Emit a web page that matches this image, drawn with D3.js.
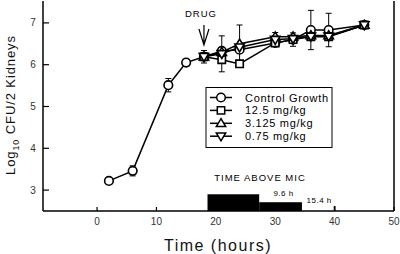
<!DOCTYPE html>
<html>
<head>
<meta charset="utf-8">
<script src="https://cdn.jsdelivr.net/npm/d3@7"></script>
<style>
  body { margin: 0; background: #fff; }
  svg { display: block; font-family: "Liberation Sans", Arial, Helvetica, sans-serif; }
</style>
</head>
<body>
<div id="chart"></div>
<script>
// time points (hours)
const hours = [2, 6, 12, 15, 18, 21, 24, 30, 33, 36, 39, 45];
const drugHours = [18, 21, 24, 30, 33, 36, 39, 45];

// log10 CFU / 2 kidneys
const controlGrowth = [3.22, 3.46, 5.51, 6.05, 6.19, 6.33, 6.36, 6.52, 6.6, 6.83, 6.83, 6.95];
const controlErr = [0, 0.12, 0.16, 0.03, 0.15, 0, 0, 0, 0.16, 0.47, 0.4, 0];
const dose12_5 = [6.19, 6.12, 6.02, 6.52, 6.6, 6.67, 6.67, 6.95];
const err12_5 = [0, 0, 0, 0, 0, 0, 0, 0];
const dose3_125 = [6.19, 6.3, 6.5, 6.67, 6.67, 6.7, 6.7, 6.95];
const err3_125 = [0, 0, 0.45, 0.1, 0, 0, 0, 0];
const dose0_75 = [6.19, 6.26, 6.42, 6.6, 6.62, 6.68, 6.68, 6.95];
const err0_75 = [0, 0.43, 0, 0, 0, 0, 0, 0];

const seriesNames = ['Control Growth', '12.5 mg/kg', '3.125 mg/kg', '0.75 mg/kg'];
const xTicks = [0, 10, 20, 30, 40, 50];
const yTicks = [3, 4, 5, 6, 7];

// time above MIC bars: start, end, top
const micStart = [18.6, 27.3, 39.85];
const micEnd = [27.3, 34.5, 40.15];
const micTop = [2.9, 2.71, 2.62];
const micLabels = ['9.6 h', '15.4 h'];
const micLabelX = [31.4, 37.4];
const micLabelY = [2.94, 2.76];

const width = 400, height = 254;
const svg = d3.select('#chart').append('svg')
    .attr('width', width)
    .attr('height', height);

const x = d3.scaleLinear().domain([-9.1, 50]).range([43, 394]);
const y = d3.scaleLinear().domain([2.5, 7.5]).range([211, 2]);

// frame: left, bottom, right
const frame = svg.append('g').attr('stroke', '#000').attr('stroke-width', 1.5);
frame.append('line').attr('x1', x(-9.1)).attr('x2', x(-9.1)).attr('y1', 1).attr('y2', y(2.5));
frame.append('line').attr('x1', x(-9.1)).attr('x2', x(50)).attr('y1', y(2.5)).attr('y2', y(2.5));
frame.append('line').attr('x1', x(50)).attr('x2', x(50)).attr('y1', 1).attr('y2', y(2.5));

// x ticks (inward)
svg.append('g').selectAll('line').data(xTicks).join('line')
    .attr('x1', d => x(d)).attr('x2', d => x(d))
    .attr('y1', y(2.5)).attr('y2', y(2.5) - 4)
    .attr('stroke', '#000').attr('stroke-width', 1.2);
svg.append('g').selectAll('text').data(xTicks).join('text')
    .attr('x', d => x(d)).attr('y', y(2.5) + 14)
    .attr('text-anchor', 'middle')
    .attr('font-size', 10).attr('fill', '#333')
    .text(d => d);

// y ticks (inward)
svg.append('g').selectAll('line').data(yTicks).join('line')
    .attr('x1', x(-9.1)).attr('x2', x(-9.1) + 6)
    .attr('y1', d => y(d)).attr('y2', d => y(d))
    .attr('stroke', '#000').attr('stroke-width', 1.2);
svg.append('g').selectAll('text').data(yTicks).join('text')
    .attr('x', 33).attr('y', d => y(d) + 3.5)
    .attr('text-anchor', 'middle')
    .attr('font-size', 10).attr('fill', '#333')
    .text(d => d);

// axis titles
svg.append('text')
    .attr('x', 218).attr('y', 251)
    .attr('text-anchor', 'middle')
    .attr('font-size', 16).attr('font-weight', 'normal').attr('letter-spacing', 1.5)
    .attr('fill', '#111')
    .text('Time (hours)');

const yTitle = svg.append('text')
    .attr('transform', 'translate(15,105) rotate(-90)')
    .attr('text-anchor', 'middle')
    .attr('font-size', 13).attr('letter-spacing', 0.9)
    .attr('fill', '#111');
yTitle.append('tspan').text('Log');
yTitle.append('tspan').attr('font-size', 9).attr('dy', 4).text('10');
yTitle.append('tspan').attr('dy', -4).text(' CFU/2 Kidneys');

// time above MIC
svg.append('g').selectAll('rect').data(micStart).join('rect')
    .attr('x', d => x(d))
    .attr('width', (d, i) => x(micEnd[i]) - x(d))
    .attr('y', (d, i) => y(micTop[i]))
    .attr('height', (d, i) => y(2.5) - y(micTop[i]))
    .attr('fill', '#000');
svg.append('text')
    .attr('x', 260).attr('y', 181)
    .attr('text-anchor', 'middle')
    .attr('font-size', 9.5).attr('letter-spacing', 1)
    .text('TIME ABOVE MIC');
svg.append('g').selectAll('text').data(micLabels).join('text')
    .attr('x', (d, i) => x(micLabelX[i]))
    .attr('y', (d, i) => y(micLabelY[i]) + 3)
    .attr('text-anchor', 'middle')
    .attr('font-size', 8).attr('letter-spacing', 0.5)
    .text(d => d);

// drug arrow
svg.append('text')
    .attr('x', 201).attr('y', 17)
    .attr('text-anchor', 'middle')
    .attr('font-size', 9.5).attr('letter-spacing', 1)
    .text('DRUG');
svg.append('path')
    .attr('d', `M${x(18)},25 L${x(18)},45 M${x(18) - 5},29 L${x(18)},45 L${x(18) + 5},29`)
    .attr('fill', 'none').attr('stroke', '#000').attr('stroke-width', 1.2);

// series
const series = [
    { name: seriesNames[0], t: hours, v: controlGrowth, e: controlErr, shape: 'circle' },
    { name: seriesNames[1], t: drugHours, v: dose12_5, e: err12_5, shape: 'square' },
    { name: seriesNames[2], t: drugHours, v: dose3_125, e: err3_125, shape: 'up' },
    { name: seriesNames[3], t: drugHours, v: dose0_75, e: err0_75, shape: 'down' }
];

function markerPath(shape) {
    if (shape === 'circle') return d3.symbol(d3.symbolCircle, 58)();
    if (shape === 'square') return 'M-3.7,-3.7H3.7V3.7H-3.7Z';
    if (shape === 'up') return 'M0,-4.7L4.7,3.2L-4.7,3.2Z';
    return 'M0,4.7L4.7,-3.2L-4.7,-3.2Z';
}

const line = d3.line().x(d => x(d[0])).y(d => y(d[1]));

const plot = svg.append('g');
series.forEach(s => {
    const pts = s.t.map((t, i) => [t, s.v[i], s.e[i]]);
    plot.append('path')
        .datum(pts)
        .attr('d', line)
        .attr('fill', 'none')
        .attr('stroke', '#000')
        .attr('stroke-width', 1.5);
    // error bars
    const eb = plot.append('g').attr('stroke', '#000').attr('stroke-width', 1);
    pts.filter(p => p[2] > 0).forEach(p => {
        eb.append('line').attr('x1', x(p[0])).attr('x2', x(p[0]))
            .attr('y1', y(p[1] + p[2])).attr('y2', y(p[1] - p[2]));
        [p[1] + p[2], p[1] - p[2]].forEach(c => {
            eb.append('line').attr('x1', x(p[0]) - 3).attr('x2', x(p[0]) + 3)
                .attr('y1', y(c)).attr('y2', y(c));
        });
    });
});
series.forEach(s => {
    plot.append('g').selectAll('path').data(s.t.map((t, i) => [t, s.v[i]])).join('path')
        .attr('transform', d => `translate(${x(d[0])},${y(d[1])})`)
        .attr('d', markerPath(s.shape))
        .attr('fill', '#fff')
        .attr('stroke', '#000')
        .attr('stroke-width', 1.6);
});

// legend
const legend = svg.append('g');
legend.append('rect')
    .attr('x', 206).attr('y', 87.5).attr('width', 126).attr('height', 60)
    .attr('fill', '#fff').attr('stroke', '#000').attr('stroke-width', 1);
series.forEach((s, i) => {
    const ly = 97.5 + i * 12.9;
    legend.append('line')
        .attr('x1', 210).attr('x2', 232).attr('y1', ly).attr('y2', ly)
        .attr('stroke', '#000').attr('stroke-width', 1.5);
    legend.append('path')
        .attr('transform', `translate(221,${ly})`)
        .attr('d', markerPath(s.shape))
        .attr('fill', '#fff').attr('stroke', '#000').attr('stroke-width', 1.5);
    legend.append('text')
        .attr('x', 245).attr('y', ly + 4)
        .attr('font-size', 11).attr('letter-spacing', 0.7)
        .text(s.name);
});
</script>
</body>
</html>
